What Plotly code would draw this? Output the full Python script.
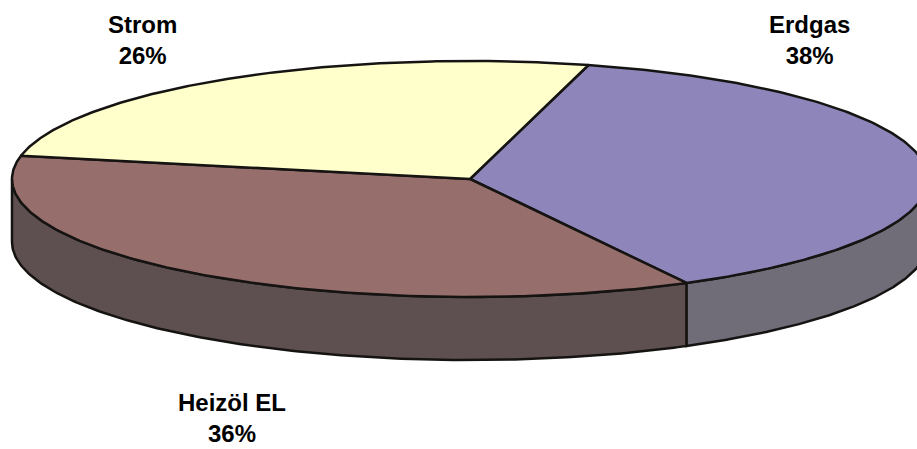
import numpy as np
import plotly.graph_objects as go

# Energy carriers and their shares (%)
categories = ["Erdgas", "Heizöl EL", "Strom"]
shares = [38, 36, 26]
label_texts = ["38%", "36%", "26%"]

# Styling
top_colors = ["#8E86BA", "#966E6C", "#FFFFCC"]
side_colors = ["#706C78", "#5E5050", "#B8B890"]
edge_color = "#161412"

# Pie geometry (pixel space of the canvas)
W, H = 917, 449
CX, CY = 470, 179          # centre of the top face
RX, RY = 458, 118          # ellipse radii of the top face
DEPTH = 63                 # thickness of the pie
FIRST_SLICE_ANGLE = 15     # degrees, clockwise from 12 o'clock

# label anchor points (centre of each two-line label)
label_pos = {"Erdgas": (809, 40), "Heizöl EL": (232, 418), "Strom": (142, 40)}


def arc(a, b, dy=0.0, n=200):
    th = np.radians(np.linspace(a, b, n))
    return CX + RX * np.sin(th), CY - RY * np.cos(th) + dy


total = float(sum(shares))
bounds = [FIRST_SLICE_ANGLE]
for s in shares:
    bounds.append(bounds[-1] + 360.0 * s / total)

fig = go.Figure()

# side walls (only the front half, 90°..270°, is visible)
for i, cat in enumerate(categories):
    a, b = bounds[i], bounds[i + 1]
    for shift in (0, -360, 360):
        lo, hi = max(a + shift, 90), min(b + shift, 270)
        if hi <= lo:
            continue
        xt, yt = arc(lo, hi)
        xb, yb = arc(hi, lo, dy=DEPTH)
        xs = np.concatenate([xt, xb, xt[:1]])
        ys = np.concatenate([yt, yb, yt[:1]])
        fig.add_trace(go.Scatter(
            x=xs, y=ys, mode="lines", fill="toself",
            fillcolor=side_colors[i],
            line=dict(color=edge_color, width=2.5),
            hoverinfo="skip", showlegend=False,
        ))

# top faces
for i, cat in enumerate(categories):
    a, b = bounds[i], bounds[i + 1]
    xa, ya = arc(a, b)
    xs = np.concatenate([[CX], xa, [CX]])
    ys = np.concatenate([[CY], ya, [CY]])
    fig.add_trace(go.Scatter(
        x=xs, y=ys, mode="lines", fill="toself",
        fillcolor=top_colors[i],
        line=dict(color=edge_color, width=2.5),
        name=cat, hoverinfo="name", showlegend=False,
    ))

# category labels
for cat, txt in zip(categories, label_texts):
    lx, ly = label_pos[cat]
    fig.add_annotation(
        x=lx, y=ly, xref="x", yref="y",
        text=f"<b>{cat}</b><br><b>{txt}</b>",
        showarrow=False, align="center",
        font=dict(family="Liberation Sans, Arial, sans-serif", size=24, color="#000000"),
    )

fig.update_xaxes(range=[0, W], visible=False, fixedrange=True)
fig.update_yaxes(range=[H, 0], visible=False, fixedrange=True)
fig.update_layout(
    width=W, height=H,
    margin=dict(l=0, r=0, t=0, b=0),
    paper_bgcolor="#FFFFFF", plot_bgcolor="#FFFFFF",
)

fig.write_html("out.html")
